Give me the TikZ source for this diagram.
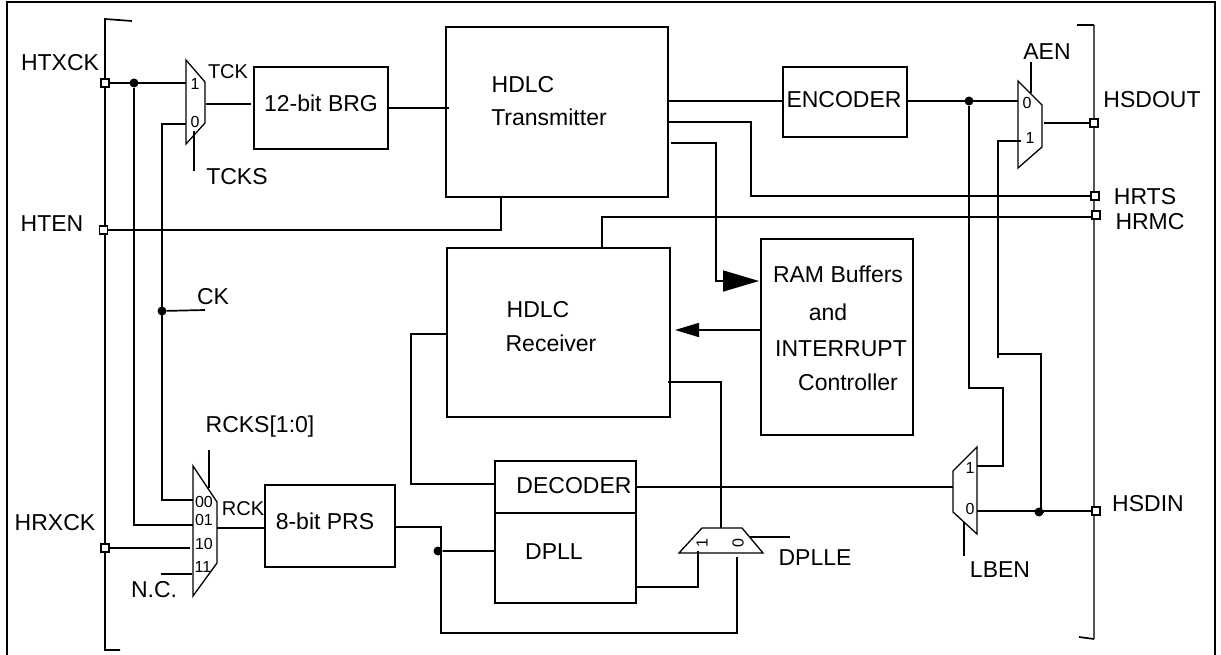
\documentclass[tikz,border=0pt]{standalone}
\usepackage{fontspec}
\setmainfont{Liberation Sans}
\usetikzlibrary{arrows.meta, positioning, calc}
\definecolor{busgray}{RGB}{85, 85, 85}
\tikzset{
	box/.style={draw, line width=1.7pt, inner sep=0pt},
	pin/.style={draw, fill=white, line width=1.6pt, minimum size=8pt, inner sep=0pt},
	junction/.style={circle, fill=black, minimum size=9pt, inner sep=0pt},
	mux/.style={draw, line width=1.3pt, line join=miter},
	wire/.style={draw, line width=1.7pt},
	bus/.style={draw=busgray, line width=1.3pt},
	port/.style={font=\fontsize{16}{18}\selectfont, inner sep=0pt}
}

\begin{document}
\begin{tikzpicture}[
    x=1pt, y=-1pt,
    font=\fontsize{23}{27}\selectfont,
]
\useasboundingbox (0,0) rectangle (1221,655);

% --- FRAME AND BUSES ---
\draw[line width=1.7pt] (7,655) -- (7,2) -- (1215,2) -- (1215,655);
\draw[wire] (132,21) -- (105,19) -- (105,650) -- (120,650);
\draw[bus] (1094,25) -- (1094,639);
\draw[wire] (1077,25) -- (1094,25);
\draw[wire] (1079,637) -- (1094,639);

% --- BLOCKS ---
\node[box, minimum width=134pt, minimum height=82pt] (brg) at (321,108) {};
\node[box, minimum width=222pt, minimum height=170pt] (tx) at (557,112) {};
\node[box, minimum width=124pt, minimum height=70pt] (enc) at (845,102) {};
\node[box, minimum width=223pt, minimum height=169pt] (rx) at (558.5,332.5) {};
\node[box, minimum width=152pt, minimum height=196pt] (ram) at (837,337) {};
\node[box, minimum width=130pt, minimum height=82pt] (prs) at (330,526) {};
\node[box, minimum width=141pt, minimum height=142pt] (dpll) at (565.5,532) {};
\draw[wire] (dpll.west |- 0,513) -- (dpll.east |- 0,513);

% Text of the blocks sits off centre, as in the source drawing
\node (brg_txt) at (321,103) {12-bit BRG};
\node (tx_txt1) at (523,85) {HDLC};
\node (tx_txt2) at (549,117) {Transmitter};
\node (enc_txt) at (844,100) {ENCODER};
\node (rx_txt1) at (538,310) {HDLC};
\node (rx_txt2) at (551,343) {Receiver};
\node (ram_txt1) at (838,274) {RAM Buffers};
\node (ram_txt2) at (828,312) {and};
\node (ram_txt3) at (841,349) {INTERRUPT};
\node (ram_txt4) at (848,382) {Controller};
\node (prs_txt) at (325,521) {8-bit PRS};
\node (dec_txt) at (574,486) {DECODER};
\node (dpll_txt) at (554,552) {DPLL};

% --- MULTIPLEXERS ---
\draw[mux] (186,60) -- (205,82) -- (205,123) -- (186,144) -- cycle;
\node[port] (mt_p1) at (195,84) {1};
\node[port] (mt_p0) at (195,122) {0};

\draw[mux] (193,466) -- (217,502) -- (217,563) -- (193,596) -- cycle;
\node[port] (mr_p00) at (204,502) {00};
\node[port] (mr_p01) at (204,520) {01};
\node[port] (mr_p10) at (204,544) {10};
\node[port] (mr_p11) at (203,567) {11};

\draw[mux] (1018,81) -- (1042,105) -- (1042,147) -- (1018,168) -- cycle;
\node[port] (mo_p0) at (1027,103) {0};
\node[port] (mo_p1) at (1030,138) {1};

\draw[mux] (977,447) -- (953,471) -- (953,512) -- (977,534) -- cycle;
\node[port] (ml_p1) at (970,468) {1};
\node[port] (ml_p0) at (970,509) {0};

\draw[mux] (679,553) -- (702,528) -- (742,528) -- (763,553) -- cycle;
\node[port, rotate=90] (md_p1) at (702,543) {1};
\node[port, rotate=90] (md_p0) at (738,543) {0};

% --- PINS AND JUNCTIONS ---
\node[pin] (htxck) at (105,83) {};
\node[pin] (hten) at (103.5,230) {};
\node[pin] (hrxck) at (105,548) {};
\node[pin] (hsdout) at (1094,123) {};
\node[pin] (hrts) at (1095,196) {};
\node[pin] (hrmc) at (1096,215) {};
\node[pin] (hsdin) at (1096,511) {};

\node[junction] (j_tx) at (134,83) {};
\node[junction] (j_ck) at (162,311) {};
\node[junction] (j_enc) at (969,101) {};
\node[junction] (j_din) at (1039,512) {};
\node[junction] (j_prs) at (438,551) {};

% --- LABELS ---
\node (l_htxck) at (60,63) {HTXCK};
\node (l_hten) at (52,224) {HTEN};
\node (l_hrxck) at (55,523) {HRXCK};
\node (l_tck) at (228,72) {\fontsize{20}{24}\selectfont TCK};
\node (l_tcks) at (237,177) {TCKS};
\node (l_ck) at (213,297) {CK};
\node (l_rcks) at (260,427) {RCKS[1:0]};
\node (l_rck) at (243,509) {\fontsize{20}{24}\selectfont RCK};
\node (l_nc) at (154,590) {N.C.};
\node (l_aen) at (1047,52) {AEN};
\node (l_hsdout) at (1152,100) {HSDOUT};
\node (l_hrts) at (1145,197) {HRTS};
\node (l_hrmc) at (1150,222) {HRMC};
\node (l_hsdin) at (1148,504) {HSDIN};
\node (l_dplle) at (815,558) {DPLLE};
\node (l_lben) at (1000,570) {LBEN};

% --- CONNECTORS ---
\coordinate (mt_in1) at (186,83);
\coordinate (mt_in0) at (186,124);
\coordinate (mt_out) at (206,104);
\coordinate (mr_in00) at (193,500);
\coordinate (mr_in01) at (193,525);
\coordinate (mr_in10) at (190,548);
\coordinate (mr_in11) at (192,574);
\coordinate (mr_out) at (217,528);
\coordinate (mo_in0) at (1018,101);
\coordinate (mo_in1) at (1021,141);
\coordinate (mo_out) at (1044,123);
\coordinate (ml_in1) at (977,466);
\coordinate (ml_in0) at (977,511);
\coordinate (ml_out) at (953,487);
\coordinate (md_in1) at (698,551);
\coordinate (md_in0) at (737,557);
\coordinate (md_out) at (721,528);
\coordinate (ram_in) at (759,281);
\coordinate (rx_in) at (675,330);

\draw[wire] (htxck) -- (mt_in1);
\draw[wire] (j_tx) -- (134,525) -- (mr_in01);
\draw[wire] (mt_in0) -- (162,124) -- (162,500) -- (mr_in00);
\draw[wire] (j_ck) -- (205,310);
\draw[wire] (mt_out) -- (251,104);
\draw[wire] (194,131) -- (194,171);
\draw[wire] (brg.east |- 0,108) -- (449,108);
\draw[wire] (hten) -- (501,230) -- (501,197);

\draw[wire] (tx.east |- 0,101) -- (enc.west |- 0,101);
\draw[wire] (enc.east |- 0,101) -- (mo_in0);
\draw[wire] (j_enc) -- (969,388) -- (1003,388) -- (1003,466) -- (ml_in1);
\draw[wire] (mo_in1) -- (998,141) -- (998,358);
\draw[wire] (997,354) -- (1041,354) -- (1041,512) -- (j_din);
\draw[wire] (mo_out) -- (hsdout);
\draw[wire] (1031,62) -- (1031,93);
\draw[wire] (tx.east |- 0,122) -- (751,122) -- (751,196) -- (hrts);
\draw[wire, -{Triangle[length=36pt,width=21pt]}] (671,143) -- (716,143) -- (716,281) -- (ram_in);
\draw[wire, -{Triangle[length=24pt,width=14pt]}] (ram.west |- rx_in) -- (rx_in);
\draw[wire] (rx.north -| 602,0) -- (602,217) -- (hrmc.west |- 0,217);

\draw[wire] (rx.west |- 0,334) -- (411,334) -- (411,484) -- (dpll.west |- 0,484);
\draw[wire] (668,382) -- (721,382) -- (md_out);
\draw[wire] (dpll.east |- 0,487) -- (ml_out);
\draw[wire] (ml_in0) -- (hsdin);
\draw[wire] (964,522) -- (964,556);

\draw[wire] (hrxck) -- (mr_in10);
\draw[wire] (161,574) -- (mr_in11);
\draw[wire] (209,450) -- (209,488);
\draw[wire] (mr_out) -- (prs.west |- 0,528);
\draw[wire] (prs.east |- 0,527) -- (441,527) -- (441,633) -- (737,633) -- (md_in0);
\draw[wire] (j_prs) -- (dpll.west |- 0,551);
\draw[wire] (dpll.east |- 0,587) -- (698,587) -- (md_in1);
\draw[wire] (750,537) -- (790,537);

\end{tikzpicture}
\end{document}
